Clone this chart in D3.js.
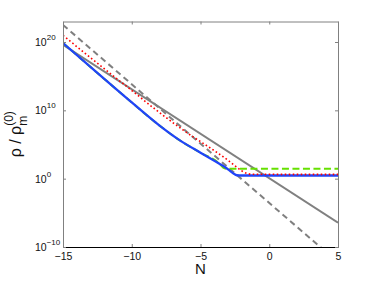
<!DOCTYPE html>
<meta charset="utf-8">
<style>
  body { margin: 0; background: #fff; }
  svg { display: block; font-family: "Liberation Sans", Arial, sans-serif; }
  .axis text { font-size: 10.5px; fill: #111; }
  .axis path, .axis line { stroke: #808080; }
  .bottom path { stroke: #000; }
</style>
<body>
<script src="https://cdn.jsdelivr.net/npm/d3@7"></script>
<script>

// data (log10 of rho / rho_m0)
var nTicks = [-15, -10, -5, 0, 5];
var yExps = [-10, 0, 10, 20];

var matterN = [-15, 5];
var matterLog = [19.6, -6.45];

var radN = [-15, 5];
var radLog = [22.5, -12.24];

var blueN = [-15, -12, -10, -8, -6.5, -5, -3.6, -3.2, -2.85, -2.6, -2.35, -2.0, 5];
var blueLog = [19.84, 14.6, 11.15, 7.8, 5.6, 3.8, 2.15, 1.68, 1.15, 0.75, 0.5, 0.46, 0.46];

var redN = [-15, -12, -10, -8, -6, -4, -3, -2.5, -2.0, -1.6, -1.2, 5];
var redLog = [20.96, 16.1, 12.9, 9.7, 6.75, 4.1, 2.7, 1.9, 1.15, 0.75, 0.64, 0.63];

var greenN = [-15, -12, -10, -8, -6.5, -5, -3.6, -3.35, -3.1, 5];
var greenLog = [19.84, 14.6, 11.15, 7.8, 5.6, 3.8, 2.15, 1.62, 1.46, 1.46];

var width = 374, height = 281;
var mLeft = 63, mRight = 338, mTop = 21.5, mBottom = 247;

var svg = d3.select('body').append('svg').attr('width', width).attr('height', height);

var x = d3.scaleLinear().domain([-15, 5]).range([mLeft, mRight]);
var y = d3.scaleLog().domain([1e-10, 1e23]).range([mBottom, mTop]);

function pts(ns, ls) {
  return ns.map(function (n, i) { return [n, Math.pow(10, ls[i])]; });
}

svg.append('clipPath').attr('id', 'clip').append('rect')
  .attr('x', mLeft).attr('y', mTop).attr('width', mRight - mLeft).attr('height', mBottom - mTop);

var line = d3.line().x(function (d) { return x(d[0]); }).y(function (d) { return y(d[1]); });
var smooth = d3.line().curve(d3.curveMonotoneX).x(function (d) { return x(d[0]); }).y(function (d) { return y(d[1]); });

var g = svg.append('g').attr('clip-path', 'url(#clip)');

g.append('path').datum(pts(matterN, matterLog)).attr('d', line)
  .attr('fill', 'none').attr('stroke', '#808080').attr('stroke-width', 2);

g.append('path').datum(pts(radN, radLog)).attr('d', line)
  .attr('fill', 'none').attr('stroke', '#808080').attr('stroke-width', 2).attr('stroke-dasharray', '6,4');

g.append('path').datum(pts(greenN, greenLog)).attr('d', smooth)
  .attr('fill', 'none').attr('stroke', '#66e000').attr('stroke-width', 2).attr('stroke-dasharray', '7,3.5');

g.append('path').datum(pts(blueN, blueLog)).attr('d', smooth)
  .attr('fill', 'none').attr('stroke', '#2044f8').attr('stroke-width', 2.3);

g.append('path').datum(pts(redN, redLog)).attr('d', smooth)
  .attr('fill', 'none').attr('stroke', '#ff0000').attr('stroke-width', 1.6).attr('stroke-dasharray', '1.6,2.4');

// axes (box with inward ticks)
svg.append('g').attr('class', 'axis bottom').attr('transform', 'translate(0,' + mBottom + ')')
  .call(d3.axisBottom(x).tickValues(nTicks).tickSize(-3).tickSizeOuter(0).tickPadding(6).tickFormat(d3.format('d')));

svg.append('g').attr('class', 'axis').attr('transform', 'translate(0,' + mTop + ')')
  .call(d3.axisTop(x).tickValues(nTicks).tickSize(-3).tickSizeOuter(0).tickFormat(''));

var yVals = yExps.map(function (e) { return Math.pow(10, e); });

svg.append('g').attr('class', 'axis').attr('transform', 'translate(' + mLeft + ',0)')
  .call(d3.axisLeft(y).tickValues(yVals).tickSize(-3).tickSizeOuter(0).tickFormat(''));

svg.append('g').attr('class', 'axis').attr('transform', 'translate(' + mRight + ',0)')
  .call(d3.axisRight(y).tickValues(yVals).tickSize(-3).tickSizeOuter(0).tickFormat(''));

// y tick labels: 10 with superscript exponent
var yl = svg.append('g').attr('class', 'axis');
yExps.forEach(function (e) {
  var t = yl.append('text').attr('x', 35).attr('y', y(Math.pow(10, e)) + 4);
  t.append('tspan').text('10');
  t.append('tspan').attr('dy', -6).style('font-size', '8px').text(d3.format('d')(e));
});

// axis labels
svg.append('text').attr('x', (mLeft + mRight) / 2).attr('y', 274)
  .attr('text-anchor', 'middle').style('font-size', '15px').attr('fill', '#111').text('N');

var yt = svg.append('text').attr('transform', 'translate(21,' + ((mTop + mBottom) / 2) + ') rotate(-90)')
  .attr('text-anchor', 'middle').style('font-size', '16px').attr('fill', '#111');
yt.append('tspan').text('ρ / ρ');
yt.append('tspan').attr('dy', 6).style('font-size', '12px').text('m');
yt.append('tspan').attr('dx', -10).attr('dy', -14).style('font-size', '12px').text('(0)');

</script>
</body>
